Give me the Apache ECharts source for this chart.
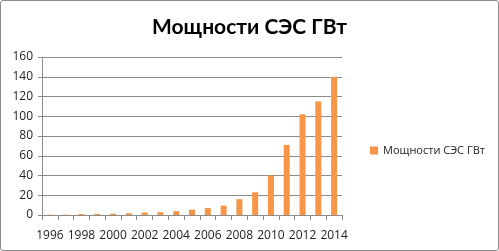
<!DOCTYPE html>
<html>
<head>
<meta charset="utf-8">
<script src="https://cdn.jsdelivr.net/npm/echarts@6/dist/echarts.min.js"></script>
<style>
  html, body { margin: 0; padding: 0; background: #fff; }
  #chart { width: 499px; height: 251px; box-sizing: border-box; border: 1px solid #8c8c8c; border-radius: 3px; }
</style>
</head>
<body>
<div id="chart"></div>
<script>
const years = ['1996', '1997', '1998', '1999', '2000', '2001', '2002', '2003', '2004', '2005',
  '2006', '2007', '2008', '2009', '2010', '2011', '2012', '2013', '2014']
const capacity = [0.3, 0.4, 1, 1.2, 1.3, 1.8, 2.5, 2.8, 3.9, 5.5,
  7, 9.5, 16, 23, 40, 71, 102, 115, 140]
const seriesName = 'Мощности СЭС ГВт'

const chart = echarts.init(document.getElementById('chart'))
const font = 'Open Sans, DejaVu Sans, sans-serif'

chart.setOption({
  animation: false,
  title: {
    text: seriesName,
    left: 'center',
    top: 11,
    textStyle: { fontFamily: 'Lato, Open Sans, sans-serif', fontWeight: 'bold', fontSize: 21, color: '#000' }
  },
  legend: {
    data: [seriesName],
    orient: 'vertical',
    left: 364,
    top: 139,
    itemWidth: 8,
    itemHeight: 8,
    itemGap: 4,
    icon: 'rect',
    textStyle: { fontFamily: font, fontSize: 11, color: '#222' }
  },
  grid: { left: 41, right: 156, top: 56, bottom: 35, containLabel: false },
  xAxis: {
    type: 'category',
    data: years,
    axisLine: { lineStyle: { color: '#8c8c8c' } },
    axisTick: { show: true, length: 5, interval: 0, lineStyle: { color: '#8c8c8c' } },
    axisLabel: { interval: 1, fontFamily: font, fontSize: 12, color: '#222', margin: 15 },
    splitLine: { show: false }
  },
  yAxis: {
    type: 'value',
    min: 0,
    max: 160,
    interval: 20,
    axisLine: { show: true, lineStyle: { color: '#8c8c8c' } },
    axisTick: { show: true, length: 4, lineStyle: { color: '#8c8c8c' } },
    axisLabel: { fontFamily: font, fontSize: 12, color: '#222', margin: 9 },
    splitLine: { lineStyle: { color: '#8c8c8c' } }
  },
  series: [{
    name: seriesName,
    type: 'bar',
    data: capacity,
    barWidth: 6,
    itemStyle: { color: '#F79646' }
  }]
})
</script>
</body>
</html>
